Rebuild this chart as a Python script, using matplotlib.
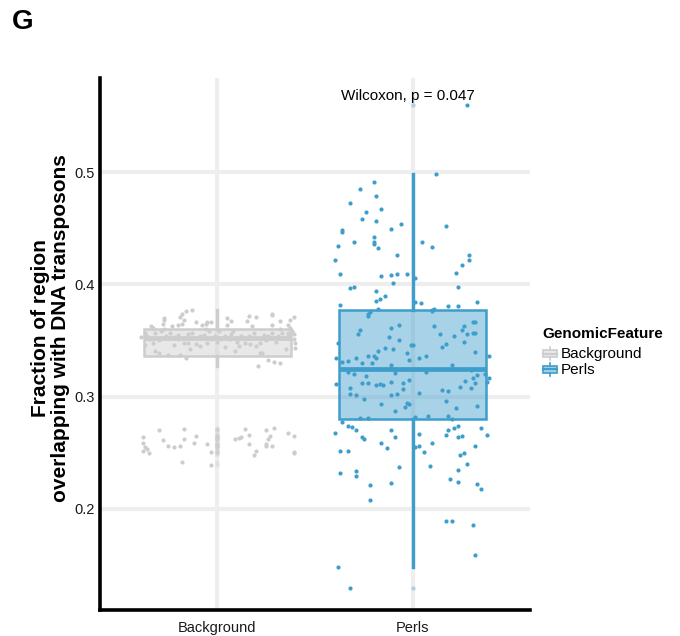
import matplotlib
matplotlib.use("Agg")
import matplotlib.pyplot as plt
from matplotlib.colors import to_rgba
from matplotlib.patches import Rectangle, Patch
from matplotlib.lines import Line2D
from matplotlib.legend_handler import HandlerBase

plt.rcParams['font.family'] = ['Liberation Sans', 'DejaVu Sans']

# ---------------------------------------------------------------- data
categories = ["Background", "Perls"]
feature_colors = ["#cdcdcd", "#3d9dcb"]

# jittered observations: horizontal offset from the category centre, value
bg_offset = [
    -0.13, -0.16, -0.18, -0.19, -0.27, -0.27, -0.17, -0.18, -0.28, -0.34, -0.23,
    -0.11, -0.08, -0.06, -0.05, -0.03, 0.05, 0.07, 0.05, 0.16, 0.20, 0.15, 0.18,
    0.28, 0.28, 0.39, 0.37, 0.32, 0.28, 0.36, 0.37, -0.20, -0.33,
    -0.39, -0.37, -0.35, -0.33, -0.32, -0.30, -0.25, -0.22, -0.19, -0.16, -0.20,
    -0.17, -0.15, -0.14, -0.11, -0.09, -0.07, -0.05, -0.03, -0.01, 0.02, 0.04,
    0.07, 0.09, 0.10, 0.12, 0.14, 0.17, 0.19, 0.22, 0.22, 0.23, 0.26, 0.29, 0.32,
    0.21, 0.26, 0.30, 0.33, 0.35, 0.38, 0.39, 0.40, 0.40, 0.39, -0.32, -0.29,
    -0.26, -0.24, -0.22, -0.13, -0.09, -0.04, 0.01, 0.04, 0.06, 0.16, 0.18, 0.24,
    0.28, 0.31, 0.34, 0.36, -0.36,
    -0.30, -0.12, 0.00, 0.13, 0.25, 0.36, -0.37, -0.20, 0.20, 0.08, -0.06, 0.32,
    -0.27, 0.11, -0.15,
    -0.38, -0.38, -0.37, -0.36, -0.35, -0.38, -0.30, -0.28, -0.25, -0.22, -0.19,
    -0.17, -0.17, -0.12, -0.11, -0.05, -0.18, -0.03, -0.03, 0.09, 0.11, 0.12,
    0.14, 0.16, 0.16, 0.19, 0.20, 0.25, 0.29, 0.27, 0.26, 0.25, 0.25, 0.28, 0.36,
    0.39, 0.39, 0.39,
]
bg_value = [
    0.377, 0.376, 0.374, 0.371, 0.370, 0.368, 0.368, 0.365, 0.365, 0.363, 0.363,
    0.366, 0.364, 0.365, 0.366, 0.366, 0.370, 0.367, 0.364, 0.372, 0.371, 0.367,
    0.363, 0.374, 0.373, 0.371, 0.368, 0.367, 0.364, 0.364, 0.361, 0.364, 0.361,
    0.353, 0.357, 0.351, 0.348, 0.341, 0.339, 0.337, 0.346, 0.337, 0.334, 0.355,
    0.348, 0.348, 0.342, 0.347, 0.345, 0.355, 0.348, 0.351, 0.354, 0.351, 0.344,
    0.356, 0.341, 0.349, 0.354, 0.348, 0.347, 0.357, 0.348, 0.339, 0.339, 0.333,
    0.331, 0.330, 0.327, 0.354, 0.349, 0.357, 0.342, 0.358, 0.356, 0.348, 0.343,
    0.351, 0.357, 0.358, 0.354, 0.357, 0.353, 0.357, 0.354, 0.358, 0.358, 0.354,
    0.351, 0.354, 0.352, 0.355, 0.357, 0.354, 0.352, 0.357, 0.354,
    0.350, 0.352, 0.349, 0.352, 0.350, 0.354, 0.346, 0.351, 0.345, 0.358, 0.360,
    0.360, 0.360, 0.345, 0.356,
    0.264, 0.259, 0.255, 0.253, 0.250, 0.252, 0.270, 0.261, 0.256, 0.255, 0.256,
    0.271, 0.262, 0.259, 0.265, 0.258, 0.242, 0.251, 0.239, 0.262, 0.263, 0.264,
    0.271, 0.266, 0.258, 0.248, 0.252, 0.270, 0.272, 0.265, 0.262, 0.258, 0.256,
    0.256, 0.268, 0.265, 0.251, 0.250,
]

perls_offset = [
    -0.20, -0.27, -0.19, -0.32, -0.16, -0.24, -0.26, -0.19, -0.06, -0.11, -0.36,
    -0.36, -0.20, -0.20, -0.20, -0.30, -0.18, -0.38, -0.08, -0.40, -0.37, -0.16,
    -0.11, -0.08, -0.03, -0.10, -0.32, -0.30, -0.19, -0.14, -0.17, -0.19, -0.37,
    -0.18, -0.22,
    0.12, 0.17, 0.05, 0.10, 0.29, 0.29, 0.25, 0.22, 0.01, 0.23, 0.01, 0.04, 0.18,
    0.23, 0.33, 0.10, 0.11,
    -0.23, -0.23, -0.27, -0.28, -0.11, -0.07, -0.12, -0.07, -0.38, -0.01, -0.14,
    -0.10, -0.18, -0.03, -0.23, -0.20, -0.19, -0.39, -0.33, -0.29, -0.26, -0.21,
    -0.36, -0.02, -0.11, -0.09, -0.33, -0.30, -0.24, -0.02, -0.39, -0.26, -0.23,
    -0.19, -0.17, -0.15, -0.11, -0.05, -0.05, -0.32, -0.32, -0.29, -0.25, -0.11,
    -0.08, -0.16, -0.03, -0.02, -0.04, -0.09, -0.27, -0.23, -0.36, -0.33, -0.31,
    -0.29, -0.40, -0.26, -0.25, -0.11, -0.09, -0.16, -0.13, -0.37, -0.33,
    0.10, 0.11, 0.31, 0.32, 0.26, 0.25, 0.14, 0.21, 0.28, 0.31, 0.32, 0.26, 0.17,
    0.15, 0.00, 0.32, 0.39, 0.03, 0.07, 0.20, 0.07, 0.30, 0.37, 0.33, 0.31, 0.39,
    0.27, 0.38, 0.32, 0.24, 0.30, 0.15, 0.18, 0.03, 0.17, 0.33, 0.22, 0.08, 0.18,
    0.01, 0.20,
    0.23, 0.21, 0.35, 0.18, 0.17, 0.03, 0.38, 0.23, 0.25, 0.10, 0.03, 0.01, 0.32,
    0.06, 0.26, 0.24,
    -0.37, -0.29, -0.29, -0.07, -0.22, -0.11, -0.22, -0.38, -0.32,
    0.09, 0.23, 0.28, 0.19, 0.23, 0.33, 0.35, 0.17, 0.20, 0.31, 0.32, 0.28,
]
perls_value = [
    0.491, 0.485, 0.479, 0.472, 0.467, 0.464, 0.458, 0.456, 0.454, 0.449, 0.448,
    0.447, 0.442, 0.438, 0.436, 0.438, 0.432, 0.434, 0.426, 0.422, 0.409, 0.407,
    0.408, 0.409, 0.409, 0.401, 0.397, 0.398, 0.394, 0.390, 0.387, 0.385, 0.382,
    0.378, 0.375,
    0.498, 0.452, 0.438, 0.433, 0.426, 0.422, 0.417, 0.410, 0.406, 0.398, 0.384,
    0.383, 0.381, 0.381, 0.384, 0.377, 0.378,
    0.374, 0.372, 0.359, 0.356, 0.361, 0.364, 0.353, 0.350, 0.348, 0.346, 0.343,
    0.342, 0.341, 0.339, 0.336, 0.336, 0.334, 0.334, 0.332, 0.334, 0.330, 0.330,
    0.331, 0.333, 0.328, 0.321, 0.322, 0.320, 0.318, 0.315, 0.311, 0.312, 0.312,
    0.310, 0.311, 0.310, 0.313, 0.312, 0.307, 0.308, 0.302, 0.301, 0.298, 0.301,
    0.302, 0.293, 0.294, 0.293, 0.291, 0.287, 0.281, 0.281, 0.277, 0.274, 0.273,
    0.270, 0.268, 0.264, 0.262, 0.270, 0.264, 0.259, 0.254, 0.252, 0.252,
    0.376, 0.363, 0.366, 0.366, 0.363, 0.359, 0.356, 0.354, 0.356, 0.357, 0.357,
    0.349, 0.347, 0.344, 0.346, 0.340, 0.336, 0.334, 0.336, 0.328, 0.322, 0.324,
    0.320, 0.319, 0.317, 0.317, 0.314, 0.313, 0.312, 0.309, 0.308, 0.306, 0.305,
    0.303, 0.296, 0.292, 0.290, 0.283, 0.283, 0.282, 0.280,
    0.274, 0.272, 0.272, 0.270, 0.266, 0.267, 0.266, 0.264, 0.265, 0.259, 0.256,
    0.255, 0.256, 0.251, 0.250, 0.248,
    0.232, 0.234, 0.229, 0.237, 0.221, 0.223, 0.208, 0.148, 0.130,
    0.238, 0.235, 0.240, 0.227, 0.224, 0.222, 0.218, 0.189, 0.189, 0.186, 0.159,
    0.560,
]

# box summaries: lower hinge, median, upper hinge, whisker ends
box_q1 = [0.336, 0.280]
box_med = [0.352, 0.325]
box_q3 = [0.360, 0.377]
box_whislo = [0.327, 0.148]
box_whishi = [0.377, 0.498]

wilcoxon_label = "Wilcoxon, p = 0.047"
y_ticks = [0.2, 0.3, 0.4, 0.5]

# ---------------------------------------------------------------- figure
fig = plt.figure(figsize=(6.8, 6.36), dpi=100)
ax = fig.add_axes([100 / 680, 26 / 636, 430 / 680, 532 / 636])

grid_color = "#eeeeee"
ax.set_axisbelow(True)
ax.grid(True, color=grid_color, linewidth=3.0, zorder=0)

offsets = [bg_offset, perls_offset]
values = [bg_value, perls_value]

for i, (name, color) in enumerate(zip(categories, feature_colors)):
    pos = i + 1
    lo, hi = box_whislo[i], box_whishi[i]
    fliers = [v for v in values[i] if v < lo or v > hi]
    stats = [dict(q1=box_q1[i], med=box_med[i], q3=box_q3[i],
                  whislo=lo, whishi=hi, fliers=fliers, label=name)]
    ax.bxp(stats, positions=[pos], widths=0.75, patch_artist=True,
           showcaps=False, manage_ticks=False,
           boxprops=dict(facecolor=to_rgba(color, 0.45), edgecolor=color,
                         linewidth=1.8),
           whiskerprops=dict(color=color, linewidth=2.4),
           medianprops=dict(color=color, linewidth=3.4),
           flierprops=dict(marker='o', markersize=3.2, markerfacecolor=to_rgba(color, 0.35),
                           markeredgecolor='none'),
           zorder=2)
    xs = [pos + o for o in offsets[i]]
    ax.scatter(xs, values[i], s=9, color=color, linewidths=0, zorder=3)

ax.set_xlim(0.4, 2.6)
ax.set_ylim(0.110, 0.5837)
ax.set_xticks([1, 2])
ax.set_xticklabels(categories)
ax.set_yticks(y_ticks)
ax.set_yticklabels([f"{t:.1f}" for t in y_ticks])
ax.tick_params(axis='both', length=0, labelsize=10.5, colors='#1a1a1a')
ax.tick_params(axis='x', pad=8)
ax.tick_params(axis='y', pad=4)

for side in ("top", "right"):
    ax.spines[side].set_visible(False)
for side in ("left", "bottom"):
    ax.spines[side].set_color("black")
    ax.spines[side].set_linewidth(2.6)

ax.set_ylabel("Fraction of region\noverlapping with DNA transposons",
              fontsize=15, fontweight='bold', linespacing=1.1, va='center')
ax.yaxis.set_label_coords(-0.115, 0.53)

ax.text(1.975, 0.568, wilcoxon_label, ha='center', va='center', fontsize=11)

fig.text(12 / 680, 1 - 22 / 636, "G", fontsize=20, fontweight='bold',
         ha='left', va='center')


# legend keys drawn as miniature boxplots
class BoxKey(HandlerBase):
    def create_artists(self, legend, orig_handle, xdescent, ydescent,
                       width, height, fontsize, trans):
        color = orig_handle.get_edgecolor()
        w = width * 0.9
        x0 = -xdescent + (width - w) / 2
        y0 = -ydescent - height * 0.05
        h = height * 1.0
        rect = Rectangle((x0, y0 + h * 0.2), w, h * 0.6,
                         facecolor=orig_handle.get_facecolor(), edgecolor=color,
                         linewidth=1.2, transform=trans)
        xm = x0 + w / 2
        wh1 = Line2D([xm, xm], [y0, y0 + h * 0.2], color=color, lw=1.2, transform=trans)
        wh2 = Line2D([xm, xm], [y0 + h * 0.8, y0 + h], color=color, lw=1.2, transform=trans)
        med = Line2D([x0, x0 + w], [y0 + h * 0.5] * 2, color=color, lw=1.6, transform=trans)
        return [rect, wh1, wh2, med]


handles = [Patch(facecolor=to_rgba(c, 0.45), edgecolor=c) for c in feature_colors]
leg = fig.legend(handles, categories, title="GenomicFeature",
                 loc='upper left', bbox_to_anchor=(536 / 680, 1 - 321 / 636),
                 frameon=False, fontsize=11, title_fontproperties=dict(size=11, weight='bold'),
                 handler_map={Patch: BoxKey()}, handlelength=1.0, handleheight=0.9,
                 handletextpad=0.25, labelspacing=0.08, borderaxespad=0)
leg._legend_box.align = "left"
leg._legend_box.sep = 4

fig.savefig("out.png", dpi=100)
